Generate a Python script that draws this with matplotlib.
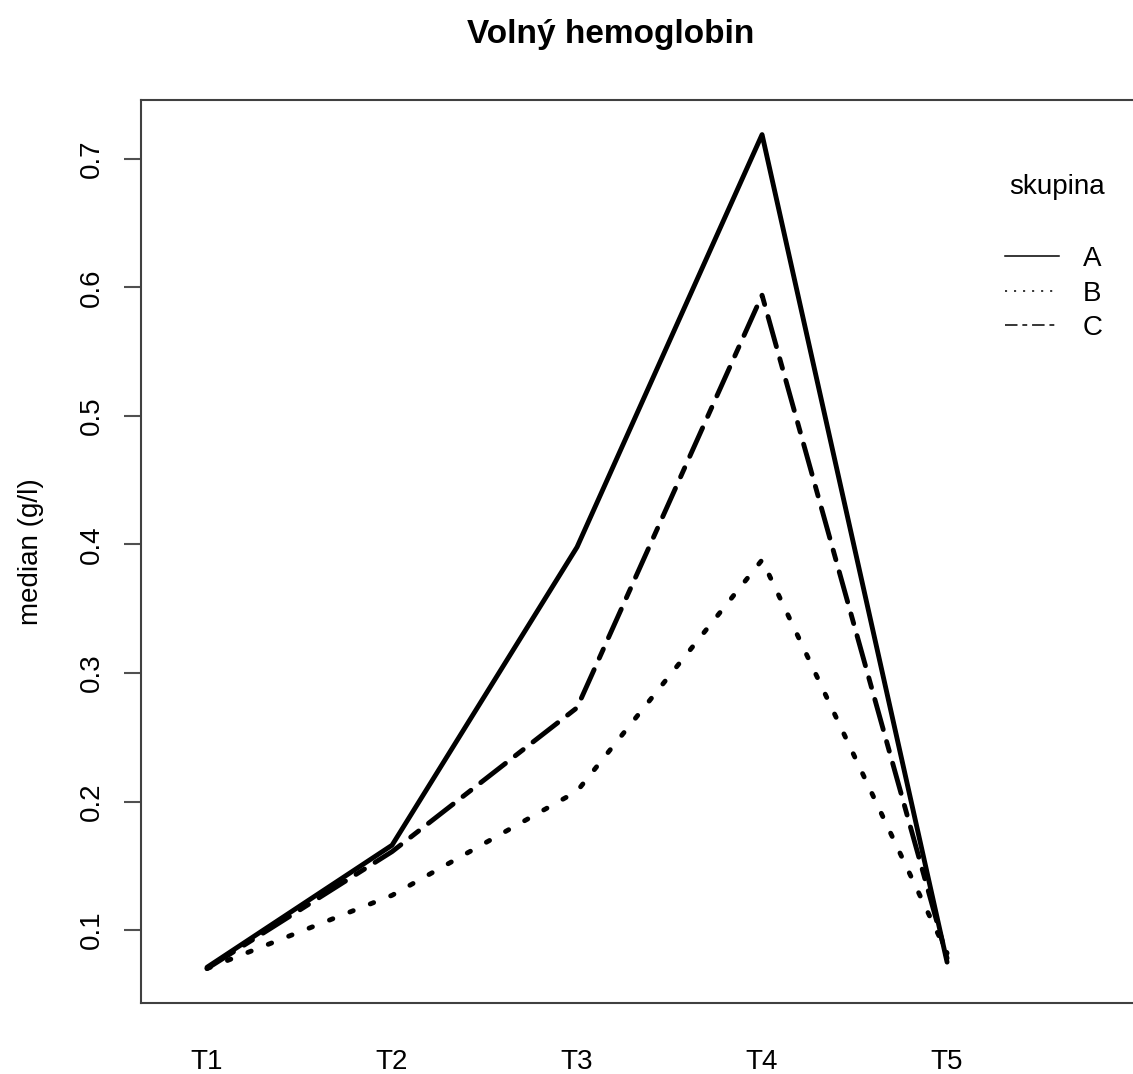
import matplotlib
matplotlib.use("Agg")
import matplotlib.pyplot as plt
from matplotlib.lines import Line2D

plt.rcParams['font.family'] = ['Liberation Sans', 'DejaVu Sans']
plt.rcParams['lines.scale_dashes'] = False

# Data
timepoints = ["T1", "T2", "T3", "T4", "T5"]
groups = ["A", "B", "C"]
median_A = [0.071, 0.166, 0.398, 0.719, 0.075]
median_B = [0.070, 0.127, 0.208, 0.388, 0.082]
median_C = [0.070, 0.161, 0.273, 0.594, 0.078]
y_ticks = [0.1, 0.2, 0.3, 0.4, 0.5, 0.6, 0.7]

styles = {
    "A": dict(linestyle="-"),
    "B": dict(linestyle=(0, (2.6, 13.2))),
    "C": dict(linestyle=(0, (22.5, 9.0, 7.2, 9.0))),
}
legend_styles = {
    "A": dict(linestyle="-"),
    "B": dict(linestyle=(0, (1.5, 5.0))),
    "C": dict(linestyle=(0, (9.0, 3.5, 3.5, 3.5))),
}

W, H = 1133, 1074
fig = plt.figure(figsize=(W / 100, H / 100), dpi=100)
ax = fig.add_axes([141 / W, 1 - 1003 / H, (W - 141) / W, (1003 - 100) / H])

x = list(range(1, len(timepoints) + 1))
for g, vals in zip(groups, [median_A, median_B, median_C]):
    ax.plot(x, vals, color="black", linewidth=3.5, solid_capstyle="round",
            dash_capstyle="round", solid_joinstyle="round", dash_joinstyle="round",
            **styles[g])

ax.set_xlim(0.643, 6.005)
ax.set_ylim(0.0432, 0.7459)

spine_color = "#404040"
for s in ["left", "top", "bottom"]:
    ax.spines[s].set_color(spine_color)
    ax.spines[s].set_linewidth(1.5)
ax.spines["right"].set_visible(False)

ax.set_xticks(x)
ax.set_xticklabels(timepoints, fontsize=20)
ax.tick_params(axis="x", length=0, pad=33)

ax.set_yticks(y_ticks)
ax.set_yticklabels([f"{v:.1f}" for v in y_ticks], fontsize=20, rotation=90, va="center")
ax.tick_params(axis="y", length=12, width=1.5, color="#505050", pad=14)

ax.set_ylabel("median (g/l)", fontsize=20)
ax.yaxis.set_label_coords((44 - 141) / (W - 141), 0.5)

fig.text(611 / W, 1 - 34 / H, "Volný hemoglobin", ha="center", va="center",
         fontsize=24, fontweight="bold")

fig.text(1057 / W, 1 - 187 / H, "skupina", ha="center", va="center", fontsize=20)

handles = [Line2D([0], [0], color="black", linewidth=1.1, **legend_styles[g]) for g in groups]
leg = fig.legend(handles, groups, loc="upper left",
                 bbox_to_anchor=(1005 / W, 1 - 246 / H), frameon=False,
                 fontsize=20, handlelength=1.95, handletextpad=0.85,
                 labelspacing=0.31, borderpad=0, borderaxespad=0)

fig.savefig("out.png", dpi=100)
